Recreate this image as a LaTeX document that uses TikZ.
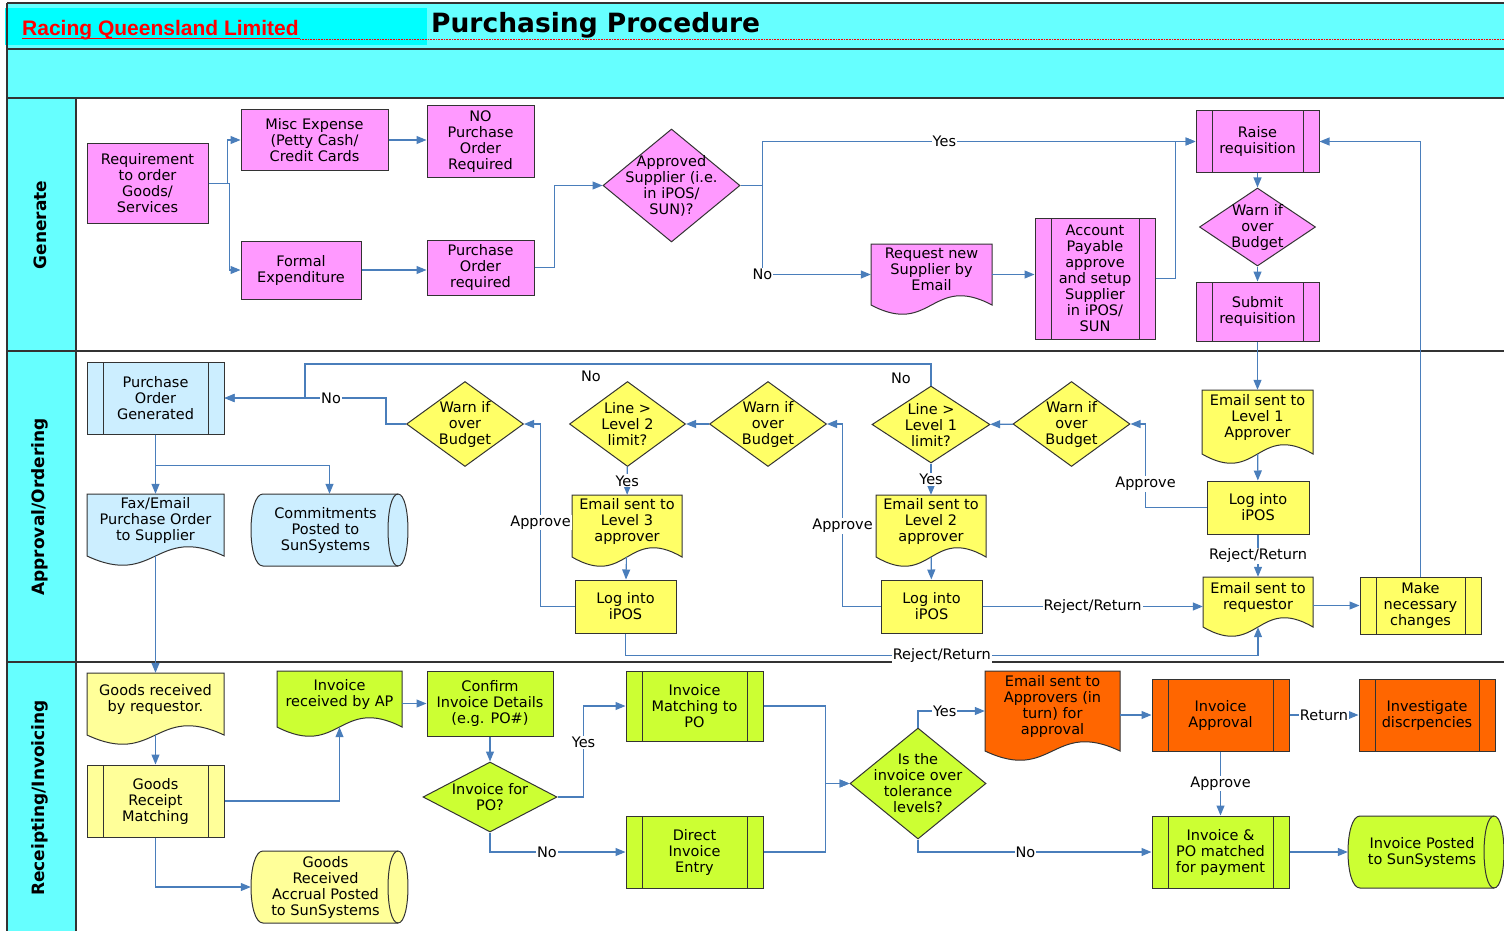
\documentclass[tikz,border=0pt]{standalone}
\usepackage{fontspec}
\setmainfont{DejaVu Sans}
\newfontfamily\rqlfont{Liberation Sans}
\usetikzlibrary{shapes.geometric,arrows.meta}
\definecolor{lanecyan}{HTML}{66FFFF}
\definecolor{headcyan}{HTML}{00FFFF}
\definecolor{genpink}{HTML}{FF99FF}
\definecolor{appblue}{HTML}{CCEEFF}
\definecolor{appyellow}{HTML}{FFFF66}
\definecolor{recyellow}{HTML}{FFFF99}
\definecolor{reclime}{HTML}{CCFF33}
\definecolor{recorange}{HTML}{FF6600}
\definecolor{flowblue}{HTML}{4A7EBB}
\definecolor{boxline}{HTML}{333333}
\tikzset{box/.style={draw=boxline, line width=1pt, align=center, inner sep=0.5pt},
subproc/.style={box, path picture={
  \draw[boxline, line width=1pt] ([xshift=16pt]path picture bounding box.north west) -- ([xshift=16pt]path picture bounding box.south west);
  \draw[boxline, line width=1pt] ([xshift=-16pt]path picture bounding box.north east) -- ([xshift=-16pt]path picture bounding box.south east);}},
decision/.style={diamond, draw=boxline, line width=1pt, inner sep=0pt},
dectext/.style={align=center, inner sep=0pt},
flow/.style={draw=flowblue, line width=1.1pt, -{Triangle[length=10pt,width=8pt]}},
lbl/.style={fill=white, inner sep=1pt},
lane/.style={draw=boxline, line width=1.1pt},
lanelabel/.style={rotate=90, font=\bfseries\fontsize{17}{20}\selectfont}}
% document shape: name, centre x, top y, width, side height, fill, text
\newcommand{\docshape}[7]{%
\filldraw[fill=#6, draw=boxline, line width=1pt] ({#2-#4/2},#3) -- ({#2+#4/2},#3) -- ({#2+#4/2},{#3+#5}) .. controls (#2,{#3+#5-32}) and (#2,{#3+#5+32}) .. ({#2-#4/2},{#3+#5}) -- cycle;
\node[minimum width=#4pt, minimum height=#5pt, inner sep=0pt, label={[dectext,yshift=5pt]center:{#7}}] (#1) at (#2,{#3+#5/2}) {};}
% stored data shape: name, centre x, centre y, width, height, fill, text
\newcommand{\storeshape}[7]{%
\filldraw[fill=#6, draw=boxline, line width=1pt] ({#2-#4/2+12},{#3-#5/2}) -- ({#2+#4/2-10},{#3-#5/2}) .. controls ({#2+#4/2+3.3},{#3-#5/2}) and ({#2+#4/2+3.3},{#3+#5/2}) .. ({#2+#4/2-10},{#3+#5/2}) -- ({#2-#4/2+12},{#3+#5/2}) .. controls ({#2-#4/2-4},{#3+#5/2}) and ({#2-#4/2-4},{#3-#5/2}) .. ({#2-#4/2+12},{#3-#5/2}) -- cycle;
\draw[boxline, line width=1pt] ({#2+#4/2-10},{#3-#5/2}) .. controls ({#2+#4/2-23.3},{#3-#5/2}) and ({#2+#4/2-23.3},{#3+#5/2}) .. ({#2+#4/2-10},{#3+#5/2});
\node[minimum width=#4pt, minimum height=#5pt, inner sep=0pt, label={[dectext,xshift=-4pt]center:{#7}}] (#1) at (#2,#3) {};}

\begin{document}
\begin{tikzpicture}[x=1pt, y=-1pt, every node/.style={font=\fontsize{14.5}{16}\selectfont}]
\useasboundingbox (0,0) rectangle (1504,931);
% header and lanes
\fill[lanecyan] (7,3) rectangle (1504,98);
\fill[headcyan] (5,8) rectangle (427,45);
\fill[lanecyan] (7,98) rectangle (76,931);
\draw[lane] (7,3) -- (1504,3);
\draw[lane] (7,49) -- (1504,49);
\draw[lane] (7,98) -- (1504,98);
\draw[lane] (7,351) -- (1504,351);
\draw[lane] (7,662) -- (1504,662);
\draw[lane] (7,3) -- (7,931);
\draw[lane] (76,98) -- (76,931);
\node[anchor=base west, text=red, font=\rqlfont\bfseries\fontsize{21}{24}\selectfont, inner sep=0pt] (rql) at (22,35.5) {Racing Queensland Limited};
\draw[red, line width=1.4pt] (22,38.5) -- (300,38.5);
\draw[red, line width=0.6pt, densely dotted] (300,39.5) -- (1504,39.5);
\node[anchor=west, font=\bfseries\fontsize{26.5}{30}\selectfont, inner sep=0pt] (title) at (431,25) {Purchasing Procedure};
\node[lanelabel] (lgen) at (40,225) {Generate};
\node[lanelabel] (lapp) at (40,507) {Approval/Ordering};
\node[lanelabel] (lrec) at (40,798) {Receipting/Invoicing};

% Generate
\node[box, fill=genpink, minimum width=121pt, minimum height=79pt] (req) at (147.5,183.5) {Requirement\\to order\\Goods/\\Services};
\node[box, fill=genpink, minimum width=147pt, minimum height=60pt] (misc) at (314.5,140) {Misc Expense\\(Petty Cash/\\Credit Cards};
\node[box, fill=genpink, minimum width=107pt, minimum height=71pt] (nopo) at (480.5,141.5) {NO\\Purchase\\Order\\Required};
\node[box, fill=genpink, minimum width=120pt, minimum height=58pt] (formal) at (301,270) {Formal\\Expenditure};
\node[box, fill=genpink, minimum width=107pt, minimum height=55pt] (poreq) at (480.5,267.5) {Purchase\\Order\\required};
\node[decision, fill=genpink, minimum width=137pt, minimum height=113pt, label={[dectext]center:{Approved\\Supplier (i.e.\\in iPOS/\\SUN)?}}] (appsup) at (671.5,185.5) {};
\docshape{reqsup}{931.5}{244}{121}{61}{genpink}{Request new\\Supplier by\\Email}
\node[subproc, fill=genpink, minimum width=120pt, minimum height=121pt] (apsetup) at (1095,278.5) {Account\\Payable\\approve\\and setup\\Supplier\\in iPOS/\\SUN};
\node[subproc, fill=genpink, minimum width=123pt, minimum height=61pt] (raise) at (1257.5,141.5) {Raise\\requisition};
\node[decision, fill=genpink, minimum width=116pt, minimum height=78pt, label={[dectext]center:{Warn if\\over\\Budget}}] (warn0) at (1257.5,227) {};
\node[subproc, fill=genpink, minimum width=123pt, minimum height=59pt] (submit) at (1257.5,311.5) {Submit\\requisition};

% Approval/Ordering
\node[subproc, fill=appblue, minimum width=137pt, minimum height=72pt] (pogen) at (155.5,398) {Purchase\\Order\\Generated};
\docshape{fax}{155.5}{494}{137}{62}{appblue}{Fax/Email\\Purchase Order\\to Supplier}
\storeshape{commit}{329.5}{530}{157}{72}{appblue}{Commitments\\Posted to\\SunSystems}
\node[decision, fill=appyellow, minimum width=117pt, minimum height=85pt, label={[dectext]center:{Warn if\\over\\Budget}}] (warn3) at (465,424) {};
\node[decision, fill=appyellow, minimum width=116pt, minimum height=85pt, label={[dectext]center:{Line >\\Level 2\\limit?}}] (line2) at (627.5,424) {};
\node[decision, fill=appyellow, minimum width=117pt, minimum height=85pt, label={[dectext]center:{Warn if\\over\\Budget}}] (warn2) at (768,424) {};
\node[decision, fill=appyellow, minimum width=118pt, minimum height=77pt, label={[dectext]center:{Line >\\Level 1\\limit?}}] (line1) at (931,424.5) {};
\node[decision, fill=appyellow, minimum width=117pt, minimum height=85pt, label={[dectext]center:{Warn if\\over\\Budget}}] (warn1) at (1071.5,424) {};
\docshape{email3}{627}{495}{110}{62}{appyellow}{Email sent to\\Level 3\\approver}
\node[box, fill=appyellow, minimum width=101pt, minimum height=53pt] (log3) at (625.5,606.5) {Log into\\iPOS};
\docshape{email2}{931}{495}{110}{62}{appyellow}{Email sent to\\Level 2\\approver}
\node[box, fill=appyellow, minimum width=101pt, minimum height=53pt] (log2) at (931.5,606.5) {Log into\\iPOS};
\docshape{email1}{1257.5}{390}{111}{64}{appyellow}{Email sent to\\Level 1\\Approver}
\node[box, fill=appyellow, minimum width=102pt, minimum height=53pt] (log1) at (1258,507.5) {Log into\\iPOS};
\docshape{emailreq}{1258}{577}{110}{50}{appyellow}{Email sent to\\requestor}
\node[subproc, fill=appyellow, minimum width=121pt, minimum height=57pt] (makechg) at (1420.5,605.5) {Make\\necessary\\changes};
\node (nol2) at (591,376) {No};
\node (nol1) at (901,378) {No};

% Receipting/Invoicing
\docshape{goodsrec}{155.5}{673}{137}{62}{recyellow}{Goods received\\by requestor.}
\node[subproc, fill=recyellow, minimum width=137pt, minimum height=72pt] (grm) at (155.5,801) {Goods\\Receipt\\Matching};
\storeshape{grac}{329.5}{887}{157}{72}{recyellow}{Goods\\Received\\Accrual Posted\\to SunSystems}
\docshape{invrec}{339.5}{671}{125}{56}{reclime}{Invoice\\received by AP}
\node[box, fill=reclime, minimum width=126pt, minimum height=65pt] (confirm) at (490,703.5) {Confirm\\Invoice Details\\(e.g. PO\#)};
\node[decision, fill=reclime, minimum width=134pt, minimum height=70pt, label={[dectext]center:{Invoice for\\PO?}}] (invpo) at (490,797) {};
\node[subproc, fill=reclime, minimum width=137pt, minimum height=70pt] (invmatch) at (694.5,706) {Invoice\\Matching to\\PO};
\node[subproc, fill=reclime, minimum width=137pt, minimum height=72pt] (direct) at (694.5,852) {Direct\\Invoice\\Entry};
\node[decision, fill=reclime, minimum width=136pt, minimum height=111pt, label={[dectext]center:{Is the\\invoice over\\tolerance\\levels?}}] (tol) at (918,783.5) {};
\docshape{emailapp}{1052.5}{671}{135}{80}{recorange}{Email sent to\\Approvers (in\\turn) for\\approval}
\node[subproc, fill=recorange, minimum width=137pt, minimum height=72pt] (invapp) at (1220.5,715) {Invoice\\Approval};
\node[subproc, fill=recorange, minimum width=136pt, minimum height=72pt] (invest) at (1427,715) {Investigate\\discrpencies};
\node[subproc, fill=reclime, minimum width=137pt, minimum height=72pt] (invpomatch) at (1220.5,852) {Invoice \&\\PO matched\\for payment};
\storeshape{invposted}{1426}{852}{156}{72}{reclime}{Invoice Posted\\to SunSystems}
\coordinate (notop) at (305,364);

% connectors, Generate
\draw[flow] (req.east) -- ++(19,0) |- (misc.west);
\draw[flow] (req.east) -- ++(21,0) |- (formal.west);
\draw[flow] (misc.east) -- (misc.east -| nopo.west);
\draw[flow] (formal.east) -- (formal.east -| poreq.west);
\draw[flow] (poreq.east) -- ++(20,0) |- (appsup.west);
\draw[flow] (appsup.east) -- ++(22,0) |- node[lbl, pos=0.71] {Yes} (raise.west);
\draw[flow] (appsup.east) -- ++(22,0) |- node[lbl, pos=0.5] {No} (reqsup.west);
\draw[flow] (reqsup.east) -- (reqsup.east -| apsetup.west);
\draw[flow] (apsetup.east) -- ++(20,0) |- (raise.west);
\draw[flow] (raise) -- (warn0);
\draw[flow] (warn0) -- (submit);
\draw[flow] (submit) -- (email1);
\draw[flow] (makechg.north) |- (raise.east);

% connectors, Approval/Ordering
\draw[flow] (email1) -- (log1);
\draw[flow] (log1.west) -- ++(-61,0) |- node[lbl, pos=0.14] {Approve} (warn1.east);
\draw[flow] (log1) -- node[lbl] {Reject/Return} (emailreq);
\draw[flow] (warn1) -- (line1);
\draw[flow] (line1) -- node[lbl] {Yes} (email2);
\draw[flow] (line1.north) |- (notop) -- (notop |- pogen.east) -- (pogen.east);
\draw[flow] (warn3.west) -- ++(-20,0) |- node[lbl, pos=0.67] {No} (pogen.east);
\draw[flow] (email2) -- (log2);
\draw[flow] (log2.west) -- ++(-38,0) |- node[lbl, pos=0.22] {Approve} (warn2.east);
\draw[flow] (log2.east) -- node[lbl] {Reject/Return} (log2.east -| emailreq.west);
\draw[flow] (warn2) -- (line2);
\draw[flow] (line2) -- node[lbl] {Yes} (email3);
\draw[flow] (email3) -- (log3);
\draw[flow] (log3.west) -- ++(-34,0) |- node[lbl, pos=0.23] {Approve} (warn3.east);
\draw[flow] (log3.south) -- ++(0,22) -| node[lbl, pos=0.25] {Reject/Return} (emailreq.south);
\draw[flow] (emailreq.east |- makechg.west) -- (makechg.west);
\draw[flow] (pogen) -- (fax);
\draw[flow] (pogen.south) -- ++(0,31) -| (commit.north);
\draw[flow] (fax.south) -- (goodsrec.north);

% connectors, Receipting/Invoicing
\draw[flow] (goodsrec) -- (grm);
\draw[flow] (grm.east) -| (invrec.south);
\draw[flow] (grm.south) |- (grac.west);
\draw[flow] (invrec.east |- confirm.west) -- (confirm.west);
\draw[flow] (confirm) -- (invpo);
\draw[flow] (invpo.east) -- ++(26,0) |- node[lbl, pos=0.3] {Yes} (invmatch.west);
\draw[flow] (invpo.south) |- node[lbl, pos=0.71] {No} (direct.west);
\draw[flow] (invmatch.east) -- ++(62,0) |- (tol.west);
\draw[flow] (direct.east) -- ++(62,0) |- (tol.west);
\draw[flow] (tol.north) |- node[lbl, pos=0.7] {Yes} (emailapp.west);
\draw[flow] (emailapp.east |- invapp.west) -- (invapp.west);
\draw[flow] (invapp) -- node[lbl] {Return} (invest);
\draw[flow] (invapp) -- node[lbl] {Approve} (invpomatch);
\draw[flow] (tol.south) |- node[lbl, pos=0.73] {No} (invpomatch.west);
\draw[flow] (invpomatch) -- (invposted);
\end{tikzpicture}
\end{document}
